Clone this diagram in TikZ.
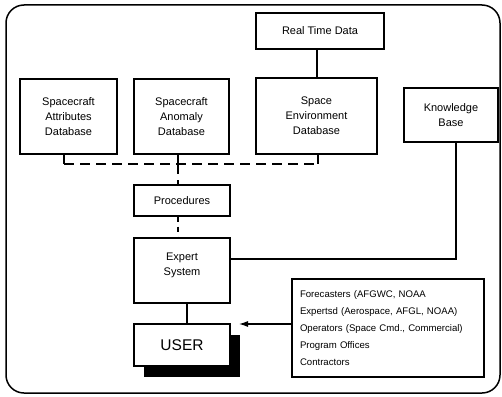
\documentclass[tikz,border=0pt]{standalone}
\usepackage{fontspec}
\setmainfont{Liberation Sans}
\usetikzlibrary{arrows.meta,shadows}
\begin{document}
\begin{tikzpicture}[x=1pt,y=-1pt,
  box/.style={draw=black,line width=1.1pt,fill=white,align=center,inner sep=2pt,
     font=\fontsize{11}{15}\selectfont},
  conn/.style={line width=2pt},
  bus/.style={line width=2.6pt,dash pattern=on 10pt off 6pt},
  thinconn/.style={line width=1.3pt}]
\useasboundingbox (0,0) rectangle (502,396);
\draw[line width=1.5pt,rounded corners=18pt] (6,5) rectangle (500,393);

\node[box,minimum width=128,minimum height=36] (rtd) at (320,31) {Real Time Data};
\node[box,minimum width=97,minimum height=75] (attr) at (68.5,116.5) {Spacecraft\\Attributes\\Database};
\node[box,minimum width=95,minimum height=75] (anom) at (181.5,116.5) {Spacecraft\\Anomaly\\Database};
\node[box,minimum width=121,minimum height=76] (env) at (316.5,116) {Space\\Environment\\Database};
\node[box,minimum width=94,minimum height=54] (kb) at (451,115) {Knowledge\\Base};
\node[box,minimum width=96,minimum height=31] (proc) at (182,200.5) {Procedures};
\node[box,minimum width=96,minimum height=65] (expert) at (182,270.5) {Expert\\System\\[-3pt]};
\node[box,minimum width=96,minimum height=42,font=\fontsize{15.5}{18}\selectfont,
  drop shadow={shadow xshift=9.5pt,shadow yshift=-11pt,fill=black,opacity=1}] (user) at (182,345) {USER};
\node[box,minimum width=192,minimum height=98,text width=176,align=left,inner sep=8pt,
  font=\fontsize{9.6}{17}\selectfont] (grp) at (388,328)
  {Forecasters (AFGWC, NOAA\\Expertsd (Aerospace, AFGL, NOAA)\\Operators (Space Cmd., Commercial)\\Program Offices\\Contractors};

\coordinate (bA) at (64,164);
\coordinate (bM) at (178,164);
\coordinate (bE) at (318,164);
\coordinate (kbx) at (456,259);
\coordinate (ux) at (187,324);
\coordinate (ah) at (239,324);

\draw[conn] (env.north) -- (env.north |- rtd.south);
\draw[thinconn] (attr.south -| bA) -- (bA);
\draw[conn] (anom.south -| bM) -- (bM);
\draw[thinconn] (env.south -| bE) -- (bE);
\draw[bus] (bA) -- (bE);
\draw[bus] (bM) -- (proc.north -| bM);
\draw[bus,dash pattern=on 5pt off 5pt] (proc.south -| bM) -- (expert.north -| bM);
\draw[conn] (kb.south -| kbx) |- (expert.east |- kbx);
\draw[conn] (expert.south -| ux) -- (user.north -| ux);
\draw[line width=1.1pt,-{Latex[length=9pt,width=6pt]}] (grp.west |- ah) -- (ah);
\end{tikzpicture}
\end{document}
